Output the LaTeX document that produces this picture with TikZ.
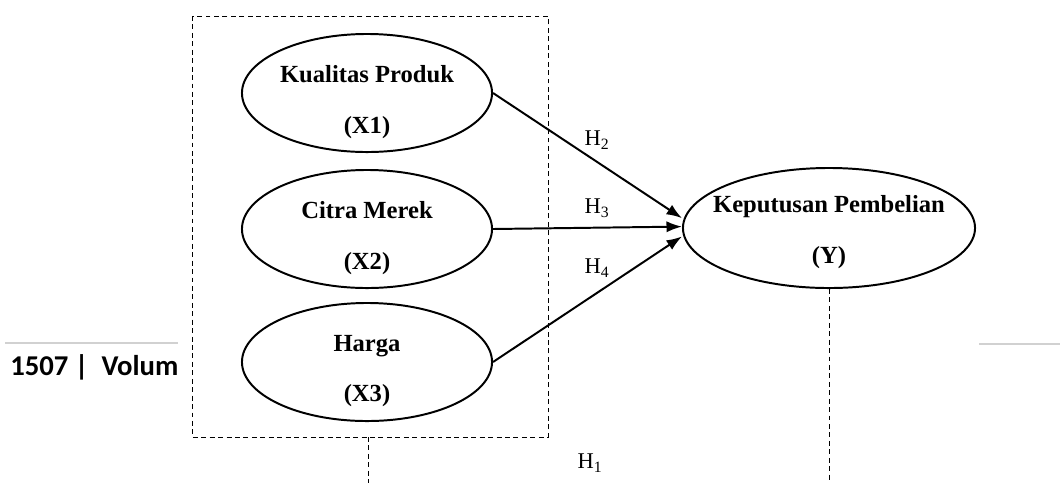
\documentclass[tikz,border=0pt]{standalone}
\usepackage{fontspec}
\setmainfont{Liberation Serif}
\newfontfamily\footfont{Carlito}
\usetikzlibrary{shapes.geometric,arrows.meta}

\tikzset{
  var/.style={draw, ellipse, line width=1.4pt, inner sep=0pt,
    minimum width=6.25cm, minimum height=2.95cm},
  vartext/.style={align=center, font=\bfseries\fontsize{17.5}{36}\selectfont},
  hyp/.style={font=\fontsize{16}{18}\selectfont},
  path/.style={line width=1.4pt, -{Latex[length=11pt,width=8pt]}},
  dashbox/.style={line width=0.7pt, dash pattern=on 3.5pt off 2.5pt},
  rule/.style={line width=1.2pt, color=black!18}
}

\begin{document}
\begin{tikzpicture}[x=0.025cm, y=-0.025cm]
\useasboundingbox (0,0) rectangle (1060,483);

% page footer
\draw[rule] (5,343) -- (178,343);
\draw[rule] (979,344) -- (1060,344);
\node[anchor=base west, inner sep=0pt, font=\footfont\bfseries\fontsize{20.4}{24}\selectfont] (foot) at (10,375) {1507 |\ \ Volum};

% independent variables
\draw[dashbox] (192,16) rectangle (548,437);
\node[var] (x1) at (367,93) {};
\node[var] (x2) at (367,229) {};
\node[var] (x3) at (367,362) {};
\node[vartext] (x1t) at (367,102) {Kualitas Produk\\(X1)};
\node[vartext] (x2t) at (367,238) {Citra Merek\\(X2)};
\node[vartext] (x3t) at (367,371) {Harga\\(X3)};

% dependent variable
\node[var, minimum width=7.3cm, minimum height=3cm] (y) at (829,228) {};
\node[vartext] (yt) at (829,232) {Keputusan Pembelian\\(Y)};

% hypotheses
\draw[path] (x1.east) -- ([yshift=7pt]y.west);
\draw[path] (x2.east) -- ([yshift=1pt]y.west);
\draw[path] (x3.east) -- ([yshift=-6pt]y.west);

\node[hyp] (h2) at (597,140) {H\textsubscript{2}};
\node[hyp] (h3) at (597,208) {H\textsubscript{3}};
\node[hyp] (h4) at (597,268) {H\textsubscript{4}};
\node[hyp] (h1) at (590,463) {H\textsubscript{1}};

% simultaneous path
\coordinate (bl) at (368,437);
\coordinate (blend) at (368,483);
\coordinate (brend) at (829,483);
\draw[dashbox] (bl) -- (blend);
\draw[dashbox] (y.south) -- (brend);
\end{tikzpicture}
\end{document}
